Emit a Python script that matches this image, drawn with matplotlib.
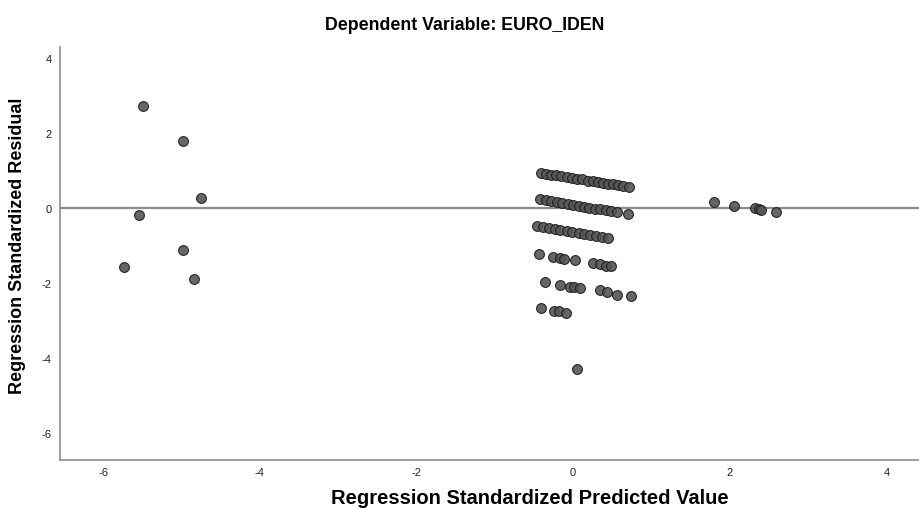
import matplotlib
matplotlib.use("Agg")
import matplotlib.pyplot as plt

plt.rcParams["font.family"] = ["Liberation Sans", "DejaVu Sans"]

title = "Dependent Variable: EURO_IDEN"
x_label = "Regression Standardized Predicted Value"
y_label = "Regression Standardized Residual"
x_ticks = [-6, -4, -2, 0, 2, 4]
y_ticks = [-6, -4, -2, 0, 2, 4]

# far left cases
left_x = [-5.49, -4.98, -4.75, -5.54, -4.98, -5.73, -4.84]
left_y = [2.71, 1.79, 0.27, -0.19, -1.11, -1.58, -1.89]

# main cluster, one list per residual band
band1_x = [-0.41, -0.35, -0.28, -0.22, -0.15, -0.08, -0.01, 0.05, 0.12,
           0.19, 0.26, 0.32, 0.38, 0.45, 0.51, 0.58, 0.64, 0.72]
band1_y = [0.93, 0.91, 0.89, 0.87, 0.85, 0.83, 0.80, 0.78, 0.76,
           0.73, 0.71, 0.69, 0.67, 0.65, 0.63, 0.60, 0.58, 0.56]
band2_x = [-0.42, -0.35, -0.28, -0.21, -0.14, -0.07, 0.00, 0.07, 0.14,
           0.21, 0.28, 0.35, 0.42, 0.49, 0.56, 0.70]
band2_y = [0.23, 0.21, 0.18, 0.16, 0.13, 0.11, 0.08, 0.06, 0.03,
           0.01, -0.02, -0.04, -0.06, -0.09, -0.11, -0.17]
band3_x = [-0.46, -0.38, -0.31, -0.23, -0.16, -0.08, -0.01, 0.07, 0.14,
           0.22, 0.29, 0.37, 0.45]
band3_y = [-0.49, -0.52, -0.54, -0.57, -0.60, -0.62, -0.65, -0.68, -0.70,
           -0.73, -0.75, -0.78, -0.81]
band4_x = [-0.43, -0.25, -0.17, -0.11, 0.03, 0.26, 0.34, 0.42, 0.48]
band4_y = [-1.23, -1.30, -1.34, -1.36, -1.40, -1.47, -1.50, -1.54, -1.56]
band5_x = [-0.36, -0.17, -0.04, 0.01, 0.09, 0.34, 0.43, 0.56, 0.74]
band5_y = [-1.98, -2.05, -2.10, -2.11, -2.14, -2.20, -2.23, -2.31, -2.36]
band6_x = [-0.41, -0.24, -0.18, -0.09]
band6_y = [-2.68, -2.74, -2.76, -2.80]
outlier_x = [0.05]
outlier_y = [-4.29]

# right group
right_x = [1.80, 2.06, 2.32, 2.38, 2.40, 2.59]
right_y = [0.17, 0.06, 0.00, -0.03, -0.05, -0.11]

groups = [
    (left_x, left_y),
    (band1_x, band1_y),
    (band2_x, band2_y),
    (band3_x, band3_y),
    (band4_x, band4_y),
    (band5_x, band5_y),
    (band6_x, band6_y),
    (outlier_x, outlier_y),
    (right_x, right_y),
]

W, H = 920, 510
fig = plt.figure(figsize=(W / 100, H / 100), dpi=100)
ax = fig.add_axes([60 / W, 49 / H, 860 / W, 413 / H])

ax.axhline(0, color="#8c8c8c", lw=1.6, zorder=1)

for gx, gy in groups:
    ax.scatter(gx, gy, s=50, facecolor="#555555", edgecolor="#1a1a1a",
               linewidths=0.8, alpha=0.9, zorder=3)

ax.set_xlim(-6.55, 4.43)
ax.set_ylim(-6.72, 4.29)
ax.set_xticks(x_ticks)
ax.set_yticks(y_ticks)
ax.set_xticklabels([str(t) for t in x_ticks])
ax.set_yticklabels([str(t) for t in y_ticks])
ax.tick_params(length=0, labelsize=8, colors="#222222")
ax.tick_params(axis="x", pad=5)
ax.tick_params(axis="y", pad=6)

for side in ["top", "right"]:
    ax.spines[side].set_visible(False)
for side in ["left", "bottom"]:
    ax.spines[side].set_color("#8c8c8c")
    ax.spines[side].set_linewidth(1.2)

# labels placed in figure pixels, like the reference
fig.text(465 / W, 1 - 25 / H, title, ha="center", va="center",
         fontsize=12.8, fontweight="bold")
fig.text(530 / W, 1 - 499 / H, x_label, ha="center", va="center",
         fontsize=14.5, fontweight="bold")
fig.text(18 / W, 1 - 246 / H, y_label, ha="center", va="center",
         rotation=90, fontsize=13, fontweight="bold")

fig.savefig("out.png", dpi=100)
